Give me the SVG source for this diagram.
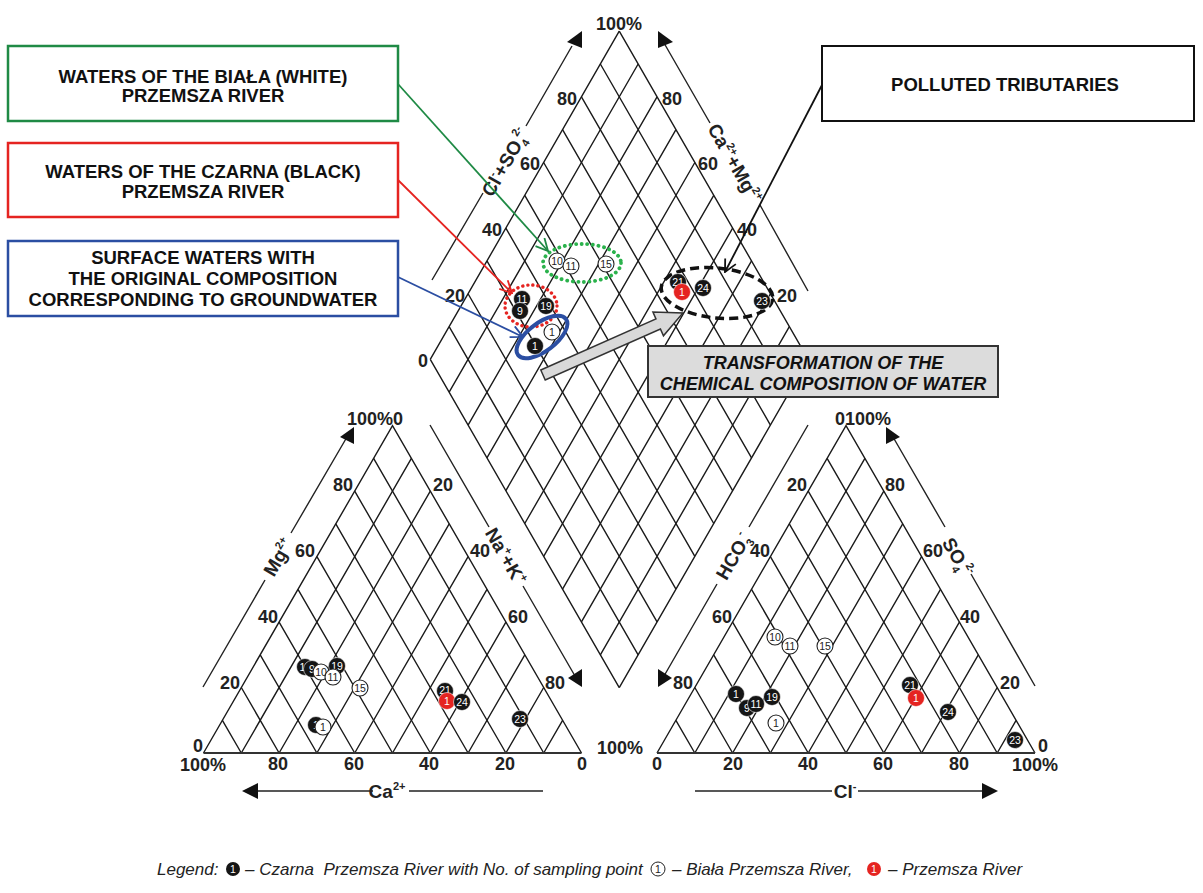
<svg xmlns="http://www.w3.org/2000/svg" xmlns:xlink="http://www.w3.org/1999/xlink" width="1203" height="893" viewBox="0 0 1203 893">
<style>
.g{stroke:#1a1a1a;stroke-width:1.4;fill:none}
.base{stroke:#333;stroke-width:2;fill:none}
.ax{stroke:#222;stroke-width:1.4;fill:none}
.ah{fill:#111}
.t{font-family:"Liberation Sans",Arial,sans-serif;font-weight:bold;font-size:18px;fill:#222;text-anchor:middle}
.an{font-family:"Liberation Sans",Arial,sans-serif;font-weight:bold;font-size:19px;fill:#222;text-anchor:middle}
.bx{font-family:"Liberation Sans",Arial,sans-serif;font-weight:bold;font-size:18.5px;fill:#111;text-anchor:middle}
.tr{font-family:"Liberation Sans",Arial,sans-serif;font-weight:bold;font-style:italic;font-size:18px;fill:#111;text-anchor:middle}
.lg{font-family:"Liberation Sans",Arial,sans-serif;font-style:italic;font-size:17px;fill:#222}
.pb{fill:#151515;stroke:#fff;stroke-width:0.6}
.pw{fill:#fff;stroke:#222;stroke-width:1.1}
.pr{fill:#e52421;stroke:#fff;stroke-width:0.6}
.nb{font-family:"Liberation Sans",Arial,sans-serif;font-size:10.5px;fill:#fff;text-anchor:middle}
.nw{font-family:"Liberation Sans",Arial,sans-serif;font-size:10.5px;fill:#222;text-anchor:middle}
</style>
<defs>
<marker id="mg" viewBox="0 0 14 14" refX="13" refY="7" markerWidth="14" markerHeight="14" markerUnits="userSpaceOnUse" orient="auto"><path d="M1,1 L13,7 L1,13" fill="none" stroke="#1f8a45" stroke-width="1.8"/></marker>
<marker id="mr" viewBox="0 0 14 14" refX="13" refY="7" markerWidth="14" markerHeight="14" markerUnits="userSpaceOnUse" orient="auto"><path d="M1,1 L13,7 L1,13" fill="none" stroke="#e52421" stroke-width="1.8"/></marker>
<marker id="mb" viewBox="0 0 14 14" refX="13" refY="7" markerWidth="14" markerHeight="14" markerUnits="userSpaceOnUse" orient="auto"><path d="M1,1 L13,7 L1,13" fill="none" stroke="#2b4ea2" stroke-width="1.8"/></marker>
<marker id="mk" viewBox="0 0 14 14" refX="13" refY="7" markerWidth="14" markerHeight="14" markerUnits="userSpaceOnUse" orient="auto"><path d="M1,1 L13,7 L1,13" fill="none" stroke="#111" stroke-width="1.8"/></marker>
<g id="tri">
<path class="g" d="M203.5,753 L392.5,425.6 L581.5,753"/>
<path class="g" d="M241.3,753 L411.4,458.4 M279.1,753 L430.3,491.1 M316.9,753 L449.2,523.9 M354.7,753 L468.1,556.6 M392.5,753 L487,589.3 M430.3,753 L505.9,622.1 M468.1,753 L524.8,654.8 M505.9,753 L543.7,687.5 M543.7,753 L562.6,720.3"/>
<path class="g" d="M241.3,753 L222.4,720.3 M279.1,753 L241.3,687.5 M316.9,753 L260.2,654.8 M354.7,753 L279.1,622.1 M392.5,753 L298,589.3 M430.3,753 L316.9,556.6 M468.1,753 L335.8,523.9 M505.9,753 L354.7,491.1 M543.7,753 L373.6,458.4"/>
<path class="base" d="M203.5,753 L581.5,753"/>
</g>
</defs>
<rect width="1203" height="893" fill="#fff"/>

<g id="diamond">
<path class="g" d="M430.25,359.4 L619.25,31.2 M449.15,392.22 L638.15,64.02 M468.05,425.04 L657.05,96.84 M486.95,457.86 L675.95,129.66 M505.85,490.68 L694.85,162.48 M524.75,523.5 L713.75,195.3 M543.65,556.32 L732.65,228.12 M562.55,589.14 L751.55,260.94 M581.45,621.96 L770.45,293.76 M600.35,654.78 L789.35,326.58 M619.25,687.6 L808.25,359.4"/>
<path class="g" d="M430.25,359.4 L619.25,687.6 M449.15,326.58 L638.15,654.78 M468.05,293.76 L657.05,621.96 M486.95,260.94 L675.95,589.14 M505.85,228.12 L694.85,556.32 M524.75,195.3 L713.75,523.5 M543.65,162.48 L732.65,490.68 M562.55,129.66 L751.55,457.86 M581.45,96.84 L770.45,425.04 M600.35,64.02 L789.35,392.22 M619.25,31.2 L808.25,359.4"/>
<text class="t" x="619" y="29.5">100%</text>
<text class="t" x="567" y="104.5">80</text><text class="t" x="530" y="169.5">60</text><text class="t" x="492" y="235.5">40</text><text class="t" x="455" y="301.5">20</text><text class="t" x="423" y="366.5">0</text>
<text class="t" x="672" y="104.5">80</text><text class="t" x="708" y="169.5">60</text><text class="t" x="747" y="235.5">40</text><text class="t" x="787" y="301.5">20</text>
<path class="ax" d="M432,280 L483,193 M526,126 L572,46"/>
<polygon class="ah" points="582,31 582,48 567,42"/>
<text class="an" transform="translate(505,162) rotate(-60)" y="7">Cl<tspan font-size="11" dy="-8">-</tspan><tspan dy="8">+SO</tspan><tspan font-size="11" dy="5">4</tspan><tspan font-size="11" dx="-2" dy="-14">2-</tspan></text>
<path class="ax" d="M664,43 L710,123 M760,205 L808,291"/>
<polygon class="ah" points="658,31 658,48 673,42"/>
<text class="an" transform="translate(735,163) rotate(60)" y="7">Ca<tspan font-size="11" dy="-8">2+</tspan><tspan dy="8">+Mg</tspan><tspan font-size="11" dy="-8">2+</tspan></text>
</g>

<g id="cation-triangle">
<use xlink:href="#tri"/>
<text class="t" x="393" y="424.5" style="text-anchor:end">100%</text><text class="t" x="393" y="424.5" style="text-anchor:start">0</text>
<text class="t" x="343" y="490.5">80</text><text class="t" x="305" y="556.5">60</text><text class="t" x="268" y="622.5">40</text><text class="t" x="230" y="688.5">20</text><text class="t" x="198" y="752">0</text>
<text class="t" x="443" y="490.5">20</text><text class="t" x="480" y="556.5">40</text><text class="t" x="518" y="622.5">60</text><text class="t" x="555" y="688.5">80</text><text class="t" x="620" y="753.5">100%</text>
<text class="t" x="203" y="771">100%</text><text class="t" x="278" y="770">80</text><text class="t" x="354" y="770">60</text><text class="t" x="429" y="770">40</text><text class="t" x="505" y="770">20</text><text class="t" x="582" y="770">0</text>
<path class="ax" d="M203,687 L265,580 M291,533 L347,437"/>
<polygon class="ah" points="354,427 354,444 340,437"/>
<text class="an" transform="translate(278,557) rotate(-60)" y="7">Mg<tspan font-size="11" dy="-8">2+</tspan></text>
<path class="ax" d="M430,425 L489,527 M523,586 L575,676"/>
<polygon class="ah" points="582,669 582,687 568,678"/>
<text class="an" transform="translate(506,556) rotate(60)" y="7">Na<tspan font-size="11" dy="-8">+</tspan><tspan dy="8">+K</tspan><tspan font-size="11" dy="-8">+</tspan></text>
<path class="ax" d="M256,791 L373,791 M409,791 L543,791"/>
<polygon class="ah" points="242,791 258,783 258,799"/>
<text class="an" x="387" y="798">Ca<tspan font-size="11" dy="-8">2+</tspan></text>
</g>

<g id="anion-triangle">
<use xlink:href="#tri" x="453.5"/>
<text class="t" x="845" y="424.5" style="text-anchor:end">0</text><text class="t" x="845" y="424.5" style="text-anchor:start">100%</text>
<text class="t" x="797" y="490.5">20</text><text class="t" x="760" y="556.5">40</text><text class="t" x="722" y="622.5">60</text><text class="t" x="683" y="688.5">80</text>
<text class="t" x="895" y="490.5">80</text><text class="t" x="933" y="556.5">60</text><text class="t" x="970" y="622.5">40</text><text class="t" x="1010" y="688.5">20</text><text class="t" x="1043" y="752">0</text>
<text class="t" x="657" y="770">0</text><text class="t" x="733" y="770">20</text><text class="t" x="808" y="770">40</text><text class="t" x="883" y="770">60</text><text class="t" x="959" y="770">80</text><text class="t" x="1035" y="771">100%</text>
<path class="ax" d="M808,425 L749,527 M717,584 L664,676"/>
<polygon class="ah" points="658,669 658,687 672,678"/>
<text class="an" transform="translate(733,556) rotate(-60)" y="7">HCO<tspan font-size="11" dy="5">3</tspan><tspan font-size="11" dx="-2" dy="-14">-</tspan></text>
<path class="ax" d="M893,437 L945,527 M971,574 L1035,686"/>
<polygon class="ah" points="886,427 886,444 900,437"/>
<text class="an" transform="translate(958,557) rotate(60)" y="7">SO<tspan font-size="11" dy="5">4</tspan><tspan font-size="11" dx="-2" dy="-14">2-</tspan></text>
<path class="ax" d="M695,791 L832,791 M858,791 L984,791"/>
<polygon class="ah" points="998,791 982,783 982,799"/>
<text class="an" x="845" y="798">Cl<tspan font-size="11" dy="-8">-</tspan></text>
</g>

<g id="groups">
<ellipse cx="582" cy="263" rx="39" ry="19" fill="none" stroke="#2bb24c" stroke-width="3.8" stroke-dasharray="0.1 5.5" stroke-linecap="round"/>
<ellipse cx="531" cy="306" rx="26" ry="21" fill="none" stroke="#e52421" stroke-width="3.4" stroke-dasharray="0.1 5" stroke-linecap="round"/>
<ellipse cx="542" cy="337" rx="30" ry="14" transform="rotate(-37 542 337)" fill="none" stroke="#2b4ea2" stroke-width="4"/>
<ellipse cx="717" cy="293" rx="56" ry="25" transform="rotate(6 717 293)" fill="none" stroke="#111" stroke-width="3.5" stroke-dasharray="9 5"/>
</g>

<g id="points">
<g><circle class="pw" cx="557" cy="261" r="8"/><text class="nw" x="557" y="264.5">10</text></g>
<g><circle class="pw" cx="571" cy="266" r="8"/><text class="nw" x="571" y="269.5">11</text></g>
<g><circle class="pw" cx="606" cy="264" r="8"/><text class="nw" x="606" y="267.5">15</text></g>
<g><circle class="pb" cx="522" cy="299" r="8.5"/><text class="nb" x="522" y="302.5">11</text></g>
<g><circle class="pb" cx="520" cy="311" r="8.5"/><text class="nb" x="520" y="314.5">9</text></g>
<g><circle class="pb" cx="546" cy="306" r="8.5"/><text class="nb" x="546" y="309.5">19</text></g>
<g><circle class="pw" cx="552" cy="332" r="8"/><text class="nw" x="552" y="335.5">1</text></g>
<g><circle class="pb" cx="535" cy="346" r="8.5"/><text class="nb" x="535" y="349.5">1</text></g>
<g><circle class="pb" cx="678" cy="282" r="8.5"/><text class="nb" x="678" y="285.5">21</text></g>
<g><circle class="pr" cx="682" cy="292" r="8.5"/><text class="nb" x="682" y="295.5">1</text></g>
<g><circle class="pb" cx="703" cy="288" r="8.5"/><text class="nb" x="703" y="291.5">24</text></g>
<g><circle class="pb" cx="762" cy="301" r="8.5"/><text class="nb" x="762" y="304.5">23</text></g>

<g><circle class="pb" cx="305" cy="667" r="8.5"/><text class="nb" x="305" y="670.5">11</text></g>
<g><circle class="pb" cx="312" cy="669" r="8.5"/><text class="nb" x="312" y="672.5">9</text></g>
<g><circle class="pb" cx="337" cy="666" r="8.5"/><text class="nb" x="337" y="669.5">19</text></g>
<g><circle class="pw" cx="321" cy="672" r="8"/><text class="nw" x="321" y="675.5">10</text></g>
<g><circle class="pw" cx="333" cy="677" r="8"/><text class="nw" x="333" y="680.5">11</text></g>
<g><circle class="pw" cx="360" cy="688" r="8"/><text class="nw" x="360" y="691.5">15</text></g>
<g><circle class="pb" cx="316" cy="725" r="8.5"/><text class="nb" x="316" y="728.5">1</text></g>
<g><circle class="pw" cx="323" cy="727" r="8"/><text class="nw" x="323" y="730.5">1</text></g>
<g><circle class="pb" cx="445" cy="691" r="8.5"/><text class="nb" x="445" y="694">21</text></g>
<g><circle class="pr" cx="447" cy="701" r="8.5"/><text class="nb" x="447" y="705">1</text></g>
<g><circle class="pb" cx="462" cy="702" r="8.5"/><text class="nb" x="462" y="705.5">24</text></g>
<g><circle class="pb" cx="520" cy="719" r="8.5"/><text class="nb" x="520" y="722.5">23</text></g>

<g><circle class="pw" cx="775" cy="637" r="8"/><text class="nw" x="775" y="640.5">10</text></g>
<g><circle class="pw" cx="790" cy="646" r="8"/><text class="nw" x="790" y="649.5">11</text></g>
<g><circle class="pw" cx="825" cy="646" r="8"/><text class="nw" x="825" y="649.5">15</text></g>
<g><circle class="pb" cx="736" cy="694" r="8.5"/><text class="nb" x="736" y="697.5">1</text></g>
<g><circle class="pb" cx="747" cy="708" r="8.5"/><text class="nb" x="747" y="711.5">9</text></g>
<g><circle class="pb" cx="756" cy="704" r="8.5"/><text class="nb" x="756" y="707.5">11</text></g>
<g><circle class="pb" cx="772" cy="697" r="8.5"/><text class="nb" x="772" y="700.5">19</text></g>
<g><circle class="pw" cx="776" cy="723" r="8"/><text class="nw" x="776" y="726.5">1</text></g>
<g><circle class="pb" cx="910" cy="685" r="8.5"/><text class="nb" x="910" y="688.5">21</text></g>
<g><circle class="pr" cx="916" cy="698" r="8.5"/><text class="nb" x="916" y="701.5">1</text></g>
<g><circle class="pb" cx="948" cy="712" r="8.5"/><text class="nb" x="948" y="715.5">24</text></g>
<g><circle class="pb" cx="1015" cy="740" r="8.5"/><text class="nb" x="1015" y="743.5">23</text></g>
</g>

<g id="box-biala">
<rect x="8" y="46" width="390" height="75" fill="#fff" stroke="#1f8a45" stroke-width="2.5"/>
<text class="bx" x="203" y="83">WATERS OF THE BIAŁA (WHITE)</text>
<text class="bx" x="203" y="102">PRZEMSZA RIVER</text>
</g>
<g id="box-czarna">
<rect x="8" y="143" width="390" height="74" fill="#fff" stroke="#e52421" stroke-width="2.5"/>
<text class="bx" x="203" y="178">WATERS OF THE CZARNA (BLACK)</text>
<text class="bx" x="203" y="198">PRZEMSZA RIVER</text>
</g>
<g id="box-surface">
<rect x="8" y="241" width="390" height="75" fill="#fff" stroke="#2b4ea2" stroke-width="2.5"/>
<text class="bx" x="203" y="264">SURFACE WATERS WITH</text>
<text class="bx" x="203" y="285">THE ORIGINAL COMPOSITION</text>
<text class="bx" x="203" y="306">CORRESPONDING TO GROUNDWATER</text>
</g>
<g id="box-polluted">
<rect x="822" y="46" width="372" height="75" fill="#fff" stroke="#111" stroke-width="2"/>
<text class="bx" x="1005" y="91">POLLUTED TRIBUTARIES</text>
</g>
<g id="box-transformation">
<rect x="648" y="346" width="350" height="51" fill="#dcdcdc" stroke="#333" stroke-width="2"/>
<text class="tr" x="823" y="368.5">TRANSFORMATION OF THE</text>
<text class="tr" x="823" y="389.5">CHEMICAL COMPOSITION OF WATER</text>
</g>

<g id="connectors">
<path d="M398,84 L548,251" stroke="#1f8a45" stroke-width="1.8" fill="none" marker-end="url(#mg)"/>
<path d="M398,180 L512,293" stroke="#e52421" stroke-width="1.8" fill="none" marker-end="url(#mr)"/>
<path d="M398,277 L523,337" stroke="#2b4ea2" stroke-width="1.8" fill="none" marker-end="url(#mb)"/>
<path d="M822,85 L725,272" stroke="#111" stroke-width="1.8" fill="none" marker-end="url(#mk)"/>
<polygon transform="translate(543,375) rotate(-23.9)" points="0,-5.5 126,-5.5 126,-13 153,0 126,13 126,5.5 0,5.5" fill="#d9d9d9" stroke="#333" stroke-width="1.5"/>
</g>

<g id="legend">
<text class="lg" x="157" y="875">Legend:</text>
<circle cx="233" cy="869" r="7" fill="#151515"/><text class="nb" x="233" y="872.5">1</text>
<text class="lg" x="245" y="875" xml:space="preserve">– Czarna  Przemsza River with No. of sampling point</text>
<circle cx="658" cy="869" r="7" fill="#fff" stroke="#222" stroke-width="1"/><text class="nw" x="658" y="872.5">1</text>
<text class="lg" x="672" y="875">– Biała Przemsza River,</text>
<circle cx="874" cy="869" r="7" fill="#e52421"/><text class="nb" x="874" y="872.5">1</text>
<text class="lg" x="888" y="875">– Przemsza River</text>
</g>
</svg>
